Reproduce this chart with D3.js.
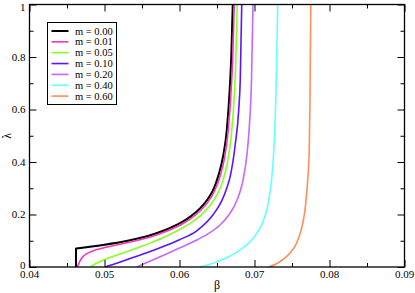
<!DOCTYPE html>
<html>
<head>
<meta charset="utf-8">
<script src="https://cdn.jsdelivr.net/npm/d3@7"></script>
<style>
  body { margin: 0; background: #fff; }
  text { font-family: "Liberation Serif", "Times New Roman", "DejaVu Serif", serif; }
</style>
</head>
<body>
<svg id="chart" width="415" height="293"></svg>
<script>
// series labels and colours
const labels = ['m = 0.00', 'm = 0.01', 'm = 0.05', 'm = 0.10', 'm = 0.20', 'm = 0.40', 'm = 0.60']
const colors = ['#000000', '#ff33b8', '#88ff22', '#5a14ff', '#c866ff', '#66ffff', '#ff8f5a']

// [beta, lambda]
const m000 = [[0.0462, 0], [0.0462, 0.070], [0.0498, 0.084], [0.0534, 0.102], [0.0560, 0.120],
  [0.0580, 0.140], [0.0600, 0.166], [0.0615, 0.193], [0.0628, 0.225], [0.0638, 0.260],
  [0.0646, 0.300], [0.0652, 0.350], [0.0658, 0.420], [0.0663, 0.520], [0.0667, 0.680],
  [0.0669, 0.800], [0.0671, 1.0]]
const m001 = [[0.04637, 0], [0.0466, 0.015], [0.0470, 0.035], [0.0476, 0.050], [0.0485, 0.062],
  [0.0498, 0.072], [0.0534, 0.095], [0.0560, 0.113], [0.0580, 0.133], [0.0600, 0.158],
  [0.0615, 0.184], [0.0628, 0.215], [0.0639, 0.252], [0.0647, 0.292], [0.0654, 0.345],
  [0.0660, 0.415], [0.0665, 0.520], [0.0669, 0.680], [0.0671, 0.800], [0.0673, 1.0]]
const m005 = [[0.0481, 0], [0.0490, 0.015], [0.0500, 0.028], [0.0520, 0.049], [0.0534, 0.063],
  [0.0547, 0.076], [0.0560, 0.090], [0.0580, 0.114], [0.0600, 0.143], [0.0615, 0.168],
  [0.0628, 0.196], [0.0640, 0.232], [0.0650, 0.275], [0.0658, 0.330], [0.0664, 0.400],
  [0.0669, 0.500], [0.0673, 0.650], [0.0675, 0.780], [0.0677, 1.0]]
const m010 = [[0.0501, 0], [0.0515, 0.013], [0.0534, 0.032], [0.0547, 0.045], [0.0560, 0.058],
  [0.0580, 0.080], [0.0600, 0.104], [0.0623, 0.138], [0.0645, 0.200], [0.0656, 0.250],
  [0.0663, 0.300], [0.0668, 0.350], [0.0674, 0.459], [0.0679, 0.600], [0.0681, 0.713], [0.0683, 1.0]]
const m020 = [[0.0543, 0], [0.0555, 0.015], [0.0578, 0.044], [0.0600, 0.072], [0.0623, 0.103],
  [0.0640, 0.130], [0.0654, 0.160], [0.0665, 0.195], [0.0673, 0.232], [0.0680, 0.280],
  [0.0685, 0.335], [0.0690, 0.430], [0.0693, 0.530], [0.0696, 0.713], [0.0698, 1.0]]
const m040 = [[0.0627, 0], [0.0650, 0.020], [0.0665, 0.038], [0.0681, 0.065], [0.0693, 0.093],
  [0.0703, 0.128], [0.0711, 0.170], [0.0717, 0.225], [0.0721, 0.290], [0.0724, 0.370],
  [0.0726, 0.459], [0.0728, 0.600], [0.0729, 0.713], [0.0731, 1.0]]
const m060 = [[0.0719, 0], [0.0734, 0.020], [0.0747, 0.052], [0.0756, 0.090], [0.0763, 0.150],
  [0.0767, 0.210], [0.0770, 0.294], [0.0772, 0.380], [0.0773, 0.446], [0.0774, 0.636], [0.0775, 1.0]]
const series = [m000, m001, m005, m010, m020, m040, m060]

const xTicks = [0.04, 0.05, 0.06, 0.07, 0.08, 0.09]
const xMinor = [0.045, 0.055, 0.065, 0.075, 0.085]
const yTicks = [0, 0.2, 0.4, 0.6, 0.8, 1]
const yMinor = [0.1, 0.3, 0.5, 0.7, 0.9]

const margin = { left: 29.5, right: 10.5, top: 4.5, bottom: 26 }
const width = 415
const height = 293

const svg = d3.select('#chart')

const x = d3.scaleLinear().domain([0.04, 0.09]).range([margin.left, width - margin.right])
const y = d3.scaleLinear().domain([0, 1]).range([height - margin.bottom, margin.top])

const plot = svg.append('g')

// curves: smooth in beta; a repeated beta (the vertical start of m = 0) is joined straight
const line = d3.line()
  .x(d => x(d[0]))
  .y(d => y(d[1]))
  .curve(d3.curveMonotoneX)

function curvePath(d) {
  if (d[0][0] === d[1][0]) {
    return `M${x(d[0][0])},${y(d[0][1])}` + line(d.slice(1)).replace(/^M/, 'L')
  }
  return line(d)
}

plot.selectAll('path.curve')
  .data(series)
  .enter()
  .append('path')
  .attr('class', 'curve')
  .attr('d', curvePath)
  .attr('fill', 'none')
  .attr('stroke', (d, i) => colors[i])
  .attr('stroke-width', (d, i) => i === 0 ? 2 : 1.6)

// frame
svg.append('rect')
  .attr('x', x(0.04)).attr('y', y(1))
  .attr('width', x(0.09) - x(0.04)).attr('height', y(0) - y(1))
  .attr('fill', 'none').attr('stroke', '#000').attr('stroke-width', 1.3)

// ticks on all four sides, pointing inward
function addAxis(axis, transform, ticks, size) {
  const g = svg.append('g').attr('transform', transform)
    .call(axis.tickValues(ticks).tickSize(size).tickFormat(''))
  g.select('.domain').remove()
  g.selectAll('line').attr('stroke', '#000')
}
const yb = y(0), yt = y(1), xl = x(0.04), xr = x(0.09)
addAxis(d3.axisTop(x), `translate(0,${yb})`, xTicks, 7)
addAxis(d3.axisTop(x), `translate(0,${yb})`, xMinor, 4)
addAxis(d3.axisBottom(x), `translate(0,${yt})`, xTicks, 7)
addAxis(d3.axisBottom(x), `translate(0,${yt})`, xMinor, 4)
addAxis(d3.axisRight(y), `translate(${xl},0)`, yTicks, 7)
addAxis(d3.axisRight(y), `translate(${xl},0)`, yMinor, 4)
addAxis(d3.axisLeft(y), `translate(${xr},0)`, yTicks, 7)
addAxis(d3.axisLeft(y), `translate(${xr},0)`, yMinor, 4)

const serif = '"Liberation Serif", "Times New Roman", "DejaVu Serif", serif'

// tick labels
svg.append('g').selectAll('text')
  .data(xTicks)
  .enter()
  .append('text')
  .attr('x', d => x(d))
  .attr('y', yb + 11)
  .attr('text-anchor', 'middle')
  .attr('font-family', serif)
  .attr('font-size', 11)
  .text(d => d3.format('.2f')(d))

// end labels are nudged inside like the original
svg.append('g').selectAll('text')
  .data(yTicks)
  .enter()
  .append('text')
  .attr('x', xl - 4)
  .attr('y', d => y(d) + (d === 1 ? 6.5 : d === 0 ? 1.5 : 3.8))
  .attr('text-anchor', 'end')
  .attr('font-family', serif)
  .attr('font-size', 11)
  .text(d => d === 0 || d === 1 ? String(d) : d3.format('.1f')(d))

// axis titles
svg.append('text')
  .attr('x', (xl + xr) / 2)
  .attr('y', 289)
  .attr('text-anchor', 'middle')
  .attr('font-family', serif)
  .attr('font-size', 12)
  .text('β')

svg.append('text')
  .attr('transform', `translate(10.5,${(yb + yt) / 2}) rotate(-90)`)
  .attr('text-anchor', 'middle')
  .attr('font-family', serif)
  .attr('font-size', 12)
  .text('λ')

// legend
const legend = svg.append('g')
legend.append('rect')
  .attr('x', 47.5).attr('y', 22.5)
  .attr('width', 69).attr('height', 82)
  .attr('fill', '#fff').attr('stroke', '#000').attr('stroke-width', 1)

const rows = legend.selectAll('g.row')
  .data(labels)
  .enter()
  .append('g')
  .attr('class', 'row')
  .attr('transform', (d, i) => `translate(0,${31 + i * 10.85})`)

rows.append('line')
  .attr('x1', 51.5).attr('x2', 68.5)
  .attr('stroke', (d, i) => colors[i])
  .attr('stroke-width', (d, i) => i === 0 ? 2 : 1.6)

rows.append('text')
  .attr('x', 75)
  .attr('y', 3.5)
  .attr('font-family', serif)
  .attr('font-size', 10.5)
  .text(d => d)
</script>
</body>
</html>
